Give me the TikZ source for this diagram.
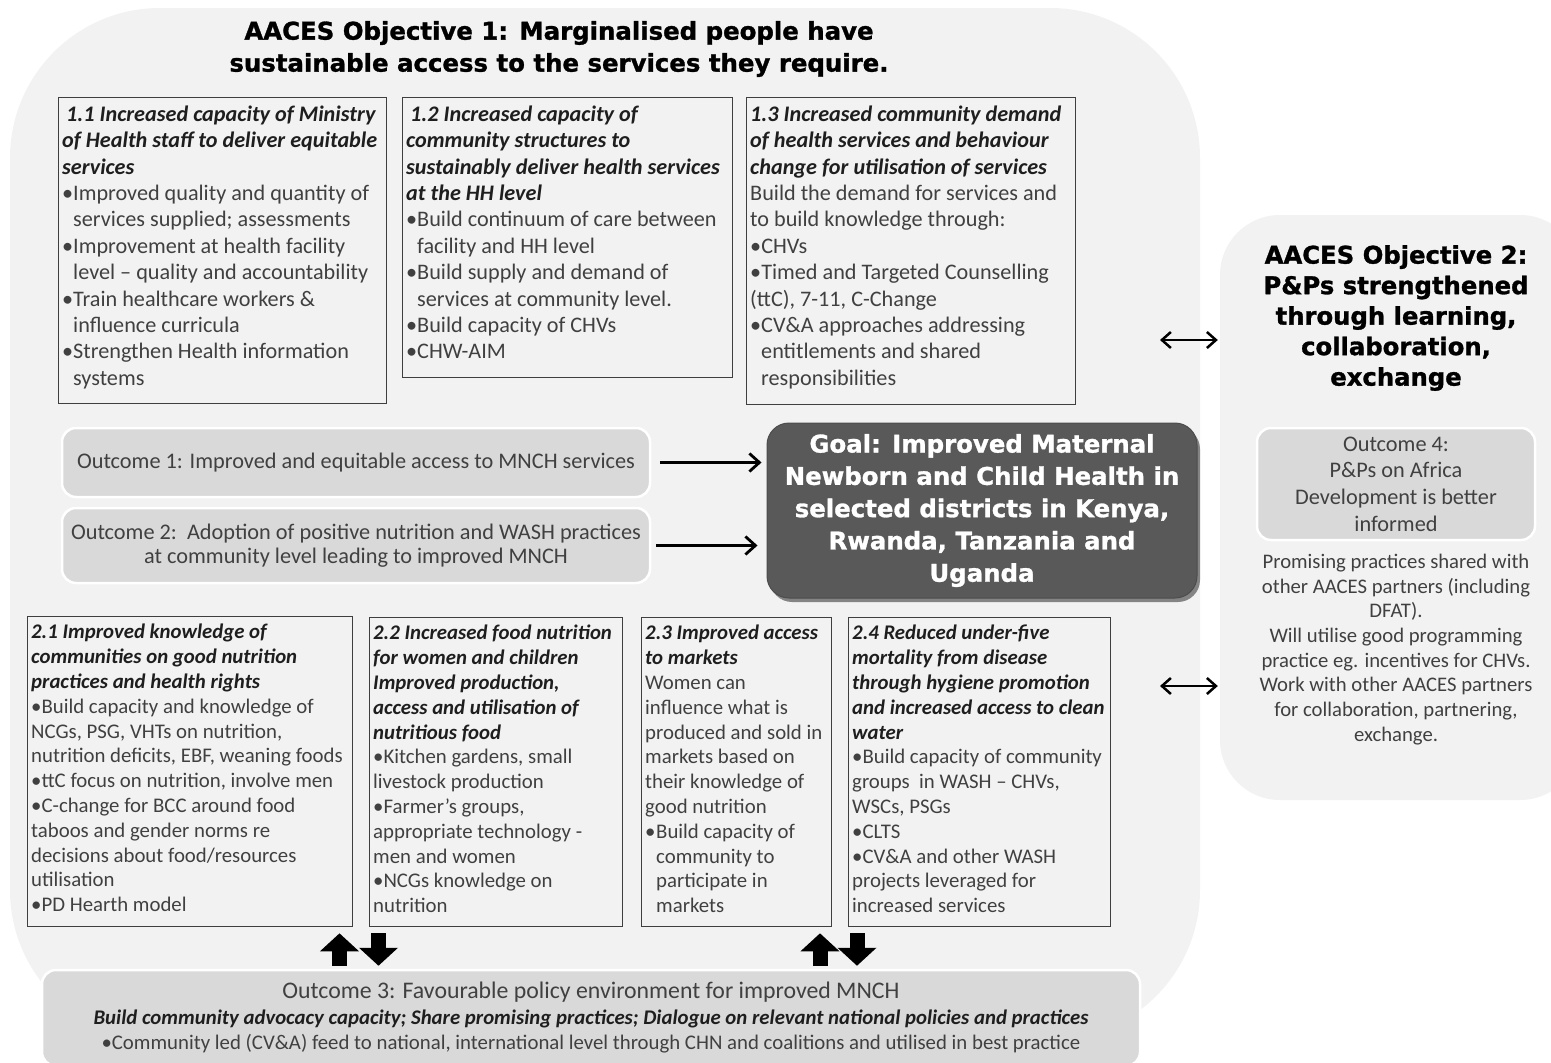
\documentclass[tikz,border=0pt]{standalone}
\usepackage{fontspec}
\setmainfont{Carlito}
\newfontfamily\heavyfont{DejaVu Sans}[BoldFeatures={FakeBold=1.2}]
\usepackage{xcolor}
\usepackage{tikz}
\usetikzlibrary{positioning, arrows.meta, shadows}

\definecolor{bggray}{HTML}{F2F2F2}
\definecolor{outgray}{HTML}{D9D9D9}
\definecolor{goalgray}{HTML}{595959}
\definecolor{framegray}{HTML}{3F3F3F}
\definecolor{bodygray}{HTML}{404040}
\definecolor{headgray}{HTML}{1E1E1E}

\newcommand{\hd}[1]{{\bfseries\itshape\color{headgray}#1}}
\newcommand{\bitem}[1]{\makebox[11pt][l]{•}#1}
\newcommand{\bnext}[1]{\hspace*{11pt}#1}

\begin{document}
\begin{tikzpicture}[x=1pt, y=-1pt,
    objshape/.style={fill=bggray, draw=none, inner sep=0pt, rounded corners=#1},
    titletext/.style={align=center, text=black, font=\heavyfont\bfseries\fontsize{24.4}{32}\selectfont},
    frame/.style={draw=framegray, line width=1.3pt, fill=bggray, anchor=north west, inner sep=0pt},
    boxtext/.style={anchor=north west, align=left, inner xsep=4pt, inner ysep=8.5pt, text=bodygray, font=\fontsize{22.2}{26.4}\selectfont},
    boxtextsm/.style={anchor=north west, align=left, inner xsep=4pt, inner ysep=8pt, text=bodygray, font=\fontsize{20.8}{24.8}\selectfont},
    outcome/.style={fill=outgray, draw=white, line width=2.5pt, rounded corners=14pt, align=center, text=bodygray, inner sep=0pt},
    goalbox/.style={fill=goalgray, draw=goalgray!85!black, line width=1pt, rounded corners=22pt, align=center, text=white, inner sep=0pt,
        font=\heavyfont\bfseries\fontsize{24.4}{32.3}\selectfont,
        drop shadow={shadow xshift=3pt, shadow yshift=-4pt, opacity=0.45, fill=black}},
    flowarrow/.style={line width=2.8pt, -{Straight Barb[length=10pt,width=18pt]}},
    dblarrow/.style={line width=2.5pt, {Straight Barb[length=9pt,width=16pt]}-{Straight Barb[length=9pt,width=16pt]}},
    fatarrow/.style={line width=15pt, -{Triangle[length=18pt,width=38pt]}}]

    \useasboundingbox (0,0) rectangle (1551,1063);
    \clip (0,0) rectangle (1551,1063);
    \fill[white] (0,0) rectangle (1551,1063);

    % the two objective areas
    \node[objshape=150pt, minimum width=1190pt, minimum height=1032pt] (obj1) at (605,524) {};
    \node[objshape=60pt, minimum width=360pt, minimum height=585pt] (obj2) at (1400,507.5) {};

    \node[titletext] (obj1title) at (559,49) {AACES Objective 1: Marginalised people have\\sustainable access to the services they require.};

    % objective 1 output boxes, top row
    \node[frame, minimum width=328pt, minimum height=306pt] (b11) at (58,97) {};
    \node[frame, minimum width=330pt, minimum height=280pt] (b12) at (402,97) {};
    \node[frame, minimum width=329pt, minimum height=307pt] (b13) at (746,97) {};

    \node[boxtext] (b11t) at (b11.north west) {%
        \hd{\hspace*{4pt}1.1 Increased capacity of Ministry}\\
        \hd{of Health staff to deliver equitable}\\
        \hd{services}\\
        \bitem{Improved quality and quantity of}\\
        \bnext{services supplied; assessments}\\
        \bitem{Improvement at health facility}\\
        \bnext{level – quality and accountability}\\
        \bitem{Train healthcare workers \&}\\
        \bnext{influence curricula}\\
        \bitem{Strengthen Health information}\\
        \bnext{systems}};
    \node[boxtext] (b12t) at (b12.north west) {%
        \hd{\hspace*{4pt}1.2 Increased capacity of}\\
        \hd{community structures to}\\
        \hd{sustainably deliver health services}\\
        \hd{at the HH level}\\
        \bitem{Build continuum of care between}\\
        \bnext{facility and HH level}\\
        \bitem{Build supply and demand of}\\
        \bnext{services at community level.}\\
        \bitem{Build capacity of CHVs}\\
        \bitem{CHW-AIM}};
    \node[boxtext] (b13t) at (b13.north west) {%
        \hd{1.3 Increased community demand}\\
        \hd{of health services and behaviour}\\
        \hd{change for utilisation of services}\\
        Build the demand for services and\\
        to build knowledge through:\\
        •CHVs\\
        •Timed and Targeted Counselling\\
        (ttC), 7-11, C-Change\\
        \bitem{CV\&A approaches addressing}\\
        \bnext{entitlements and shared}\\
        \bnext{responsibilities}};

    % outcomes and goal
    \node[outcome, minimum width=588pt, minimum height=69pt, font=\fontsize{22.3}{26}\selectfont] (o1) at (356,462.5)
        {Outcome 1: Improved and equitable access to MNCH services};
    \node[outcome, minimum width=588pt, minimum height=75pt, font=\fontsize{22.3}{24.5}\selectfont] (o2) at (356,545.5)
        {Outcome 2:\ \ Adoption of positive nutrition and WASH practices\\at community level leading to improved MNCH};
    \node[goalbox, minimum width=430pt, minimum height=175pt] (goal) at (982,510.5)
        {Goal: Improved Maternal\\Newborn and Child Health in\\selected districts in Kenya,\\Rwanda, Tanzania and\\Uganda};

    \draw[flowarrow, shorten <=9pt, shorten >=5pt] (o1.east) -- (o1.east -| goal.west);
    \draw[flowarrow, shorten <=5pt, shorten >=9pt] (o2.east) -- (o2.east -| goal.west);

    % objective 1 output boxes, bottom row
    \node[frame, minimum width=325pt, minimum height=310pt] (b21) at (27,616) {};
    \node[frame, minimum width=253pt, minimum height=309pt] (b22) at (369,617) {};
    \node[frame, minimum width=190pt, minimum height=309pt] (b23) at (641,617) {};
    \node[frame, minimum width=262pt, minimum height=309pt] (b24) at (848,617) {};

    \node[boxtextsm] (b21t) at (b21.north west) {%
        \hd{2.1 Improved knowledge of}\\
        \hd{communities on good nutrition}\\
        \hd{practices and health rights}\\
        •Build capacity and knowledge of\\
        NCGs, PSG, VHTs on nutrition,\\
        nutrition deficits, EBF, weaning foods\\
        •ttC focus on nutrition, involve men\\
        •C-change for BCC around food\\
        taboos and gender norms re\\
        decisions about food/resources\\
        utilisation\\
        •PD Hearth model};
    \node[boxtextsm] (b22t) at (b22.north west) {%
        \hd{2.2 Increased food nutrition}\\
        \hd{for women and children}\\
        \hd{Improved production,}\\
        \hd{access and utilisation of}\\
        \hd{nutritious food}\\
        •Kitchen gardens, small\\
        livestock production\\
        •Farmer’s groups,\\
        appropriate technology -\\
        men and women\\
        •NCGs knowledge on\\
        nutrition};
    \node[boxtextsm] (b23t) at (b23.north west) {%
        \hd{2.3 Improved access}\\
        \hd{to markets}\\
        Women can\\
        influence what is\\
        produced and sold in\\
        markets based on\\
        their knowledge of\\
        good nutrition\\
        \bitem{Build capacity of}\\
        \bnext{community to}\\
        \bnext{participate in}\\
        \bnext{markets}};
    \node[boxtextsm] (b24t) at (b24.north west) {%
        \hd{2.4 Reduced under-five}\\
        \hd{mortality from disease}\\
        \hd{through hygiene promotion}\\
        \hd{and increased access to clean}\\
        \hd{water}\\
        •Build capacity of community\\
        groups\ \ in WASH – CHVs,\\
        WSCs, PSGs\\
        •CLTS\\
        •CV\&A and other WASH\\
        projects leveraged for\\
        increased services};

    % outcome 3 and the block arrows
    \node[outcome, minimum width=1098pt, minimum height=96pt, font=\fontsize{20.8}{25.5}\selectfont] (o3) at (591,1018)
        {{\fontsize{23.8}{26}\selectfont Outcome 3: Favourable policy environment for improved MNCH}\\
         \hd{Build community advocacy capacity; Share promising practices; Dialogue on relevant national policies and practices}\\
         •Community led (CV\&A) feed to national, international level through CHN and coalitions and utilised in best practice};

    \draw[fatarrow] ([yshift=3pt]o3.north -| 339.5,0) -- ([yshift=-6pt]b21.south -| 339.5,0);
    \draw[fatarrow] ([yshift=-6pt]b22.south -| 378.5,0) -- ([yshift=3pt]o3.north -| 378.5,0);
    \draw[fatarrow] ([yshift=3pt]o3.north -| 820,0) -- ([yshift=-6pt]b23.south -| 820,0);
    \draw[fatarrow] ([yshift=-6pt]b24.south -| 857,0) -- ([yshift=3pt]o3.north -| 857,0);

    % objective 2
    \node[titletext, font=\heavyfont\bfseries\fontsize{24.3}{30.5}\selectfont] (obj2title) at (1396,318)
        {AACES Objective 2:\\P\&Ps strengthened\\through learning,\\collaboration,\\exchange};
    \node[outcome, minimum width=278pt, minimum height=112pt, font=\fontsize{22.3}{26.7}\selectfont] (o4) at (1396,484)
        {Outcome 4:\\P\&Ps on Africa\\Development is better\\informed};
    \node[align=center, text=bodygray, font=\fontsize{20.7}{24.7}\selectfont] (obj2body) at (1396,649.5)
        {Promising practices shared with\\other AACES partners (including\\DFAT).\\Will utilise good programming\\practice eg. incentives for CHVs.\\Work with other AACES partners\\for collaboration, partnering,\\exchange.};

    \coordinate (lnkA) at (1160,340);
    \coordinate (lnkB) at (1160,686);
    \draw[dblarrow] (lnkA) -- ([xshift=-2pt]lnkA -| obj2.west);
    \draw[dblarrow] (lnkB) -- ([xshift=-2pt]lnkB -| obj2.west);
\end{tikzpicture}
\end{document}
